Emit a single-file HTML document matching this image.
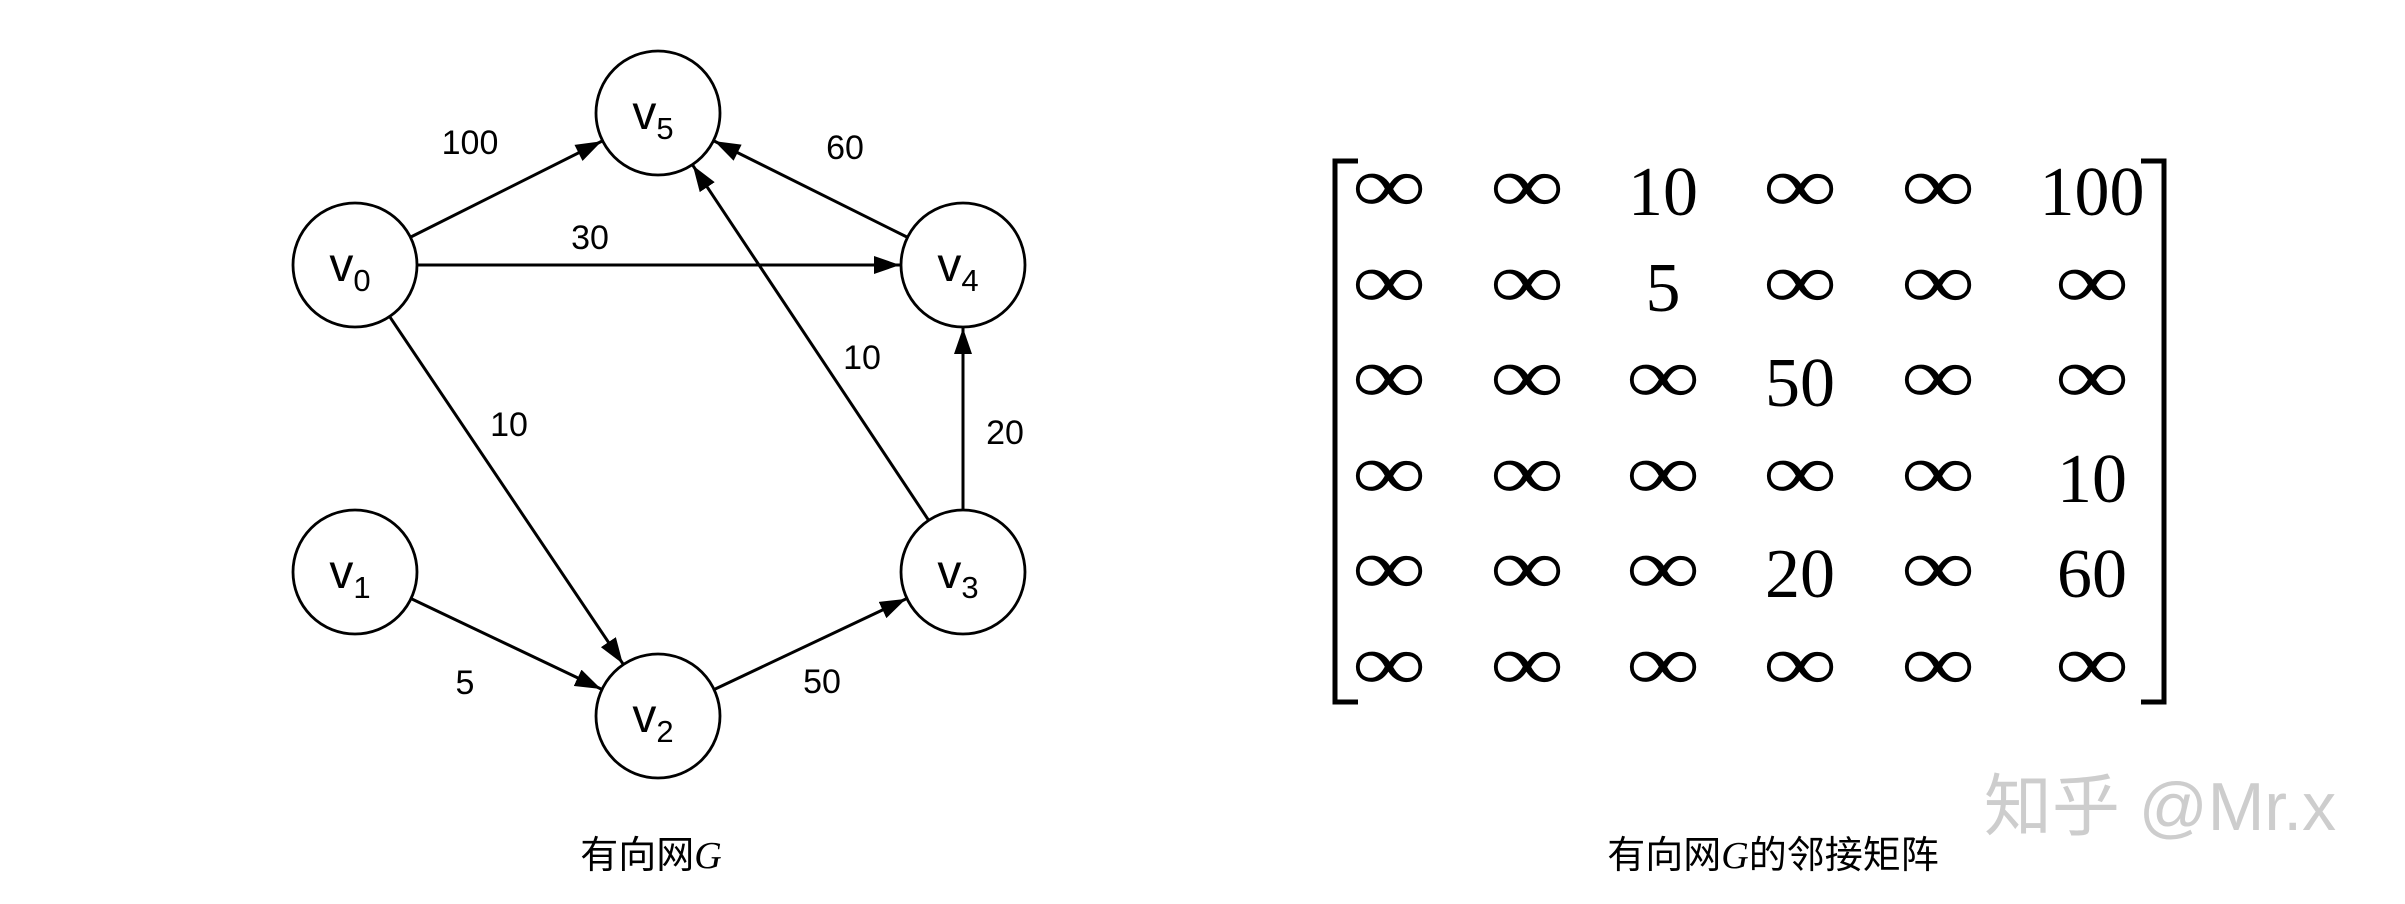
<!DOCTYPE html>
<html><head><meta charset="utf-8"><style>
html,body{margin:0;padding:0;background:#fff;}
svg{display:block;}
</style></head><body>
<svg id="s" width="2405" height="904" viewBox="0 0 2405 904" xmlns="http://www.w3.org/2000/svg">
<defs><marker id="a" markerWidth="26" markerHeight="18" refX="26" refY="9" orient="auto" markerUnits="userSpaceOnUse"><path d="M0,0 L26,9 L0,18 z" fill="#000"/></marker></defs>
<g id="edges" stroke="#000" stroke-width="3"></g>
<g fill="#fff" stroke="#000" stroke-width="2.8">
<circle cx="355" cy="265" r="62"/><circle cx="355" cy="572" r="62"/><circle cx="658" cy="716" r="62"/>
<circle cx="963" cy="572" r="62"/><circle cx="963" cy="265" r="62"/><circle cx="658" cy="113" r="62"/>
</g>
<g font-family="Liberation Sans, sans-serif" font-size="48" text-anchor="middle">
<text x="350" y="281">v<tspan font-size="31" dy="10">0</tspan></text>
<text x="350" y="588">v<tspan font-size="31" dy="10">1</tspan></text>
<text x="653" y="732">v<tspan font-size="31" dy="10">2</tspan></text>
<text x="958" y="588">v<tspan font-size="31" dy="10">3</tspan></text>
<text x="958" y="281">v<tspan font-size="31" dy="10">4</tspan></text>
<text x="653" y="129">v<tspan font-size="31" dy="10">5</tspan></text>
</g>
<g font-family="Liberation Sans, sans-serif" font-size="34" text-anchor="middle">
<text x="470" y="154">100</text><text x="845" y="159">60</text><text x="590" y="249">30</text>
<text x="509" y="436">10</text><text x="862" y="369">10</text><text x="1005" y="444">20</text>
<text x="465" y="694">5</text><text x="822" y="693">50</text>
<text x="651" y="868" font-family="Liberation Sans, Noto Sans CJK SC, sans-serif" font-size="38">有向网<tspan font-style="italic" font-family="Liberation Serif, serif">G</tspan></text>
<text x="1773" y="868" font-family="Liberation Sans, Noto Sans CJK SC, sans-serif" font-size="38">有向网<tspan font-style="italic" font-family="Liberation Serif, serif">G</tspan>的邻接矩阵</text>
</g>
<g fill="none" stroke="#000" stroke-width="5">
<path d="M1358,161 L1335,161 L1335,702 L1358,702"/>
<path d="M2141,161 L2164,161 L2164,702 L2141,702"/>
</g>
<g id="m" font-family="Liberation Serif, DejaVu Serif, serif" text-anchor="middle"></g>
<text x="2160" y="830" font-family="Liberation Sans, Noto Sans CJK SC, sans-serif" font-size="68" fill="#cdcdcd" text-anchor="middle">知乎 @Mr.x</text>
</svg>
<script>
var N={0:[355,265],1:[355,572],2:[658,716],3:[963,572],4:[963,265],5:[658,113]};
var E=[[0,5],[0,4],[0,2],[1,2],[2,3],[3,4],[3,5],[4,5]];
var g=document.getElementById('edges'),ns='http://www.w3.org/2000/svg';
E.forEach(function(e){var a=N[e[0]],b=N[e[1]],dx=b[0]-a[0],dy=b[1]-a[1],L=Math.hypot(dx,dy),ux=dx/L,uy=dy/L,r=63;
var l=document.createElementNS(ns,'line');l.setAttribute('x1',a[0]+ux*r);l.setAttribute('y1',a[1]+uy*r);
l.setAttribute('x2',b[0]-ux*r);l.setAttribute('y2',b[1]-uy*r);l.setAttribute('marker-end','url(#a)');g.appendChild(l);});
var M=[["∞","∞","10","∞","∞","100"],["∞","∞","5","∞","∞","∞"],["∞","∞","∞","50","∞","∞"],["∞","∞","∞","∞","∞","10"],["∞","∞","∞","20","∞","60"],["∞","∞","∞","∞","∞","∞"]];
var cx=[1389,1527,1663,1800,1938,2092],ry=[192,288,383,479,574,670],m=document.getElementById('m');
M.forEach(function(row,i){row.forEach(function(v,j){var t=document.createElementNS(ns,'text');
if(v=="∞"){t.setAttribute('transform','translate('+cx[j]+','+(ry[i]+20)+') scale(1.3,1)');t.setAttribute('font-size','80');}
else{t.setAttribute('x',cx[j]);t.setAttribute('y',ry[i]+23);t.setAttribute('font-size','70');}
t.textContent=v;m.appendChild(t);});});
</script>
</body></html>
